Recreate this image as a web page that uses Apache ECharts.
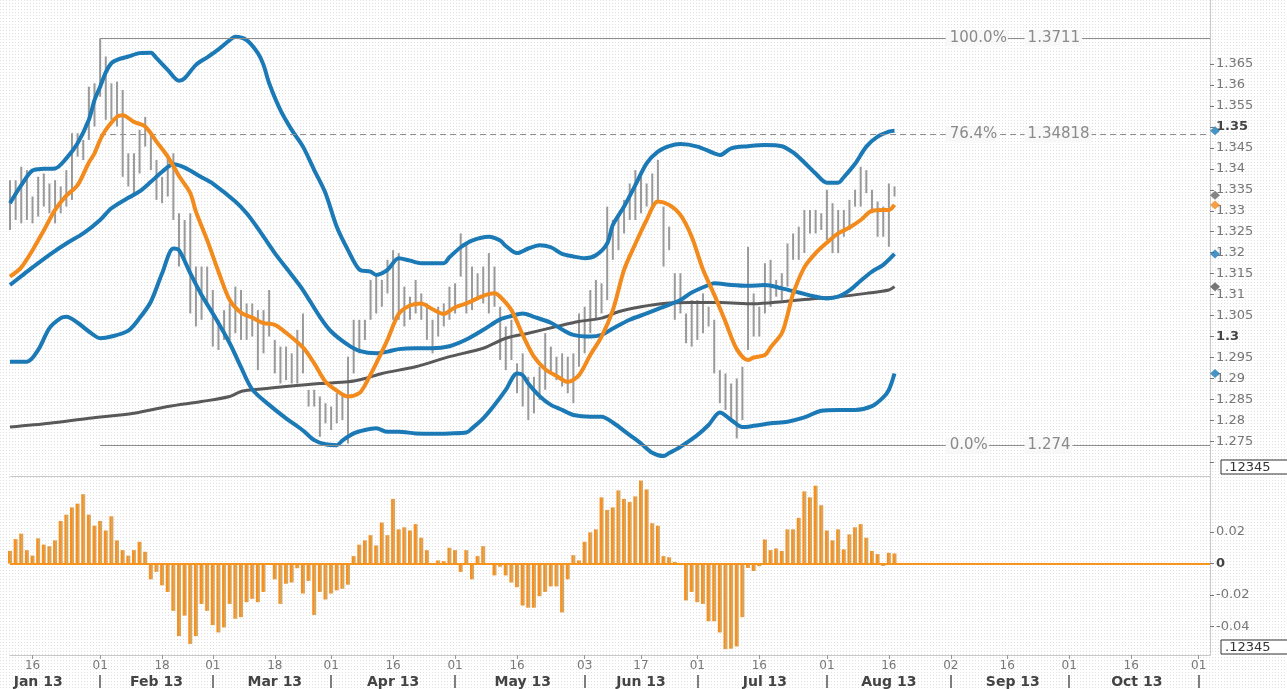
<!DOCTYPE html>
<html>
<head>
<meta charset="utf-8">
<title>EUR/USD 2013</title>
<script src="https://cdn.jsdelivr.net/npm/echarts@6/dist/echarts.min.js"></script>
<style>
html, body { margin: 0; padding: 0; background: #fff; }
#main { width: 1287px; height: 689px; }
</style>
</head>
<body>
<div id="main"></div>
<script>
// daily bars, one per weekday from 10 Jan 2013
var high = [1.3373, 1.3373, 1.3405, 1.3397, 1.3334, 1.3381, 1.3389, 1.3365, 1.3373, 1.3358,
	1.3397, 1.3485, 1.3485, 1.3469, 1.3596, 1.3604, 1.3711, 1.3668, 1.3604, 1.3608,
	1.3588, 1.3437, 1.3437, 1.3493, 1.3524, 1.3485, 1.3421, 1.3381, 1.3429, 1.3437,
	1.3294, 1.3278, 1.3294, 1.3167, 1.3167, 1.3167, 1.3111, 1.3040, 1.3063, 1.3079,
	1.3119, 1.3111, 1.3079, 1.3079, 1.3063, 1.3063, 1.3111, 1.2992, 1.2976, 1.2976,
	1.2960, 1.3016, 1.3055, 1.2873, 1.2873, 1.2857, 1.2841, 1.2833, 1.2865, 1.2865,
	1.2952, 1.3040, 1.3040, 1.3040, 1.3135, 1.3143, 1.3135, 1.3183, 1.3206, 1.3199,
	1.3119, 1.3095, 1.3135, 1.3103, 1.3079, 1.3040, 1.3071, 1.3079, 1.3119, 1.3127,
	1.3246, 1.3222, 1.3167, 1.3151, 1.3167, 1.3199, 1.3167, 1.3071, 1.3024, 1.3040,
	1.2936, 1.2960, 1.2904, 1.2904, 1.2928, 1.3008, 1.2976, 1.2952, 1.2960, 1.2952,
	1.2960, 1.3055, 1.3071, 1.3111, 1.3135, 1.3127, 1.3310, 1.3278, 1.3286, 1.3326,
	1.3365, 1.3397, 1.3381, 1.3365, 1.3389, 1.3421, 1.3310, 1.3262, 1.3151, 1.3151,
	1.3055, 1.3087, 1.3087, 1.3103, 1.3071, 1.3040, 1.2920, 1.2912, 1.2888, 1.2900,
	1.2928, 1.3214, 1.3103, 1.3071, 1.3175, 1.3183, 1.3135, 1.3151, 1.3222, 1.3246,
	1.3262, 1.3302, 1.3302, 1.3302, 1.3294, 1.3350, 1.3318, 1.3302, 1.3302, 1.3326,
	1.3350, 1.3405, 1.3397, 1.3350, 1.3322, 1.3310, 1.3365, 1.3358];
var low = [1.3254, 1.3278, 1.3270, 1.3278, 1.3270, 1.3286, 1.3310, 1.3294, 1.3270, 1.3294,
	1.3310, 1.3326, 1.3429, 1.3421, 1.3469, 1.3501, 1.3572, 1.3517, 1.3517, 1.3501,
	1.3381, 1.3358, 1.3334, 1.3389, 1.3453, 1.3397, 1.3326, 1.3318, 1.3334, 1.3278,
	1.3167, 1.3183, 1.3055, 1.3024, 1.3040, 1.3071, 1.2976, 1.2968, 1.2992, 1.2992,
	1.3008, 1.2992, 1.2992, 1.3000, 1.2920, 1.2960, 1.3000, 1.2912, 1.2888, 1.2896,
	1.2888, 1.2888, 1.2912, 1.2833, 1.2833, 1.2761, 1.2793, 1.2777, 1.2793, 1.2801,
	1.2745, 1.2912, 1.2960, 1.2992, 1.3040, 1.3055, 1.3071, 1.3103, 1.3040, 1.3040,
	1.3024, 1.3040, 1.3055, 1.3040, 1.2992, 1.2960, 1.3000, 1.3024, 1.3040, 1.3055,
	1.3143, 1.3055, 1.3063, 1.3087, 1.3079, 1.3055, 1.3071, 1.2944, 1.2920, 1.2944,
	1.2865, 1.2833, 1.2801, 1.2817, 1.2849, 1.2873, 1.2912, 1.2896, 1.2881, 1.2865,
	1.2841, 1.2928, 1.2960, 1.3008, 1.3040, 1.3055, 1.3087, 1.3183, 1.3206, 1.3246,
	1.3278, 1.3278, 1.3294, 1.3310, 1.3310, 1.3326, 1.3167, 1.3206, 1.3040, 1.3055,
	1.2984, 1.2976, 1.2992, 1.3008, 1.3024, 1.2912, 1.2841, 1.2825, 1.2801, 1.2757,
	1.2801, 1.2968, 1.3000, 1.3000, 1.3055, 1.3071, 1.3095, 1.3087, 1.3119, 1.3183,
	1.3183, 1.3199, 1.3246, 1.3246, 1.3254, 1.3230, 1.3199, 1.3199, 1.3238, 1.3254,
	1.3310, 1.3310, 1.3342, 1.3294, 1.3238, 1.3238, 1.3214, 1.3334];
var lastClose = 1.3337;

// indicator lines as [day index, value]
var upperBand = [[0, 1.3318], [2, 1.3361], [4, 1.3396], [6, 1.3400], [8, 1.3401], [10, 1.3425], [12, 1.3461], [14, 1.3517], [15, 1.3564], [16, 1.3596], [17, 1.3630], [18, 1.3652], [19, 1.3660], [21, 1.3668], [23, 1.3676], [25, 1.3677], [26, 1.3664], [28, 1.3636], [30, 1.3610], [31, 1.3616], [33, 1.3648], [35, 1.3666], [37, 1.3685], [39, 1.3707], [40, 1.3715], [42, 1.3707], [44, 1.3676], [45, 1.3648], [46, 1.3604], [48, 1.3540], [50, 1.3493], [52, 1.3453], [54, 1.3397], [56, 1.3342], [58, 1.3262], [60, 1.3206], [62, 1.3160], [64, 1.3155], [65, 1.3147], [67, 1.3159], [69, 1.3187], [71, 1.3181], [73, 1.3175], [77, 1.3175], [78, 1.3189], [80, 1.3213], [82, 1.3229], [85, 1.3238], [87, 1.3229], [88, 1.3216], [90, 1.3199], [92, 1.3210], [94, 1.3218], [96, 1.3213], [98, 1.3197], [100, 1.3191], [102, 1.3187], [104, 1.3194], [106, 1.3222], [107, 1.3266], [109, 1.3310], [111, 1.3361], [113, 1.3413], [115, 1.3441], [117, 1.3454], [119, 1.3459], [122, 1.3453], [125, 1.3437], [126, 1.3433], [128, 1.3449], [131, 1.3454], [134, 1.3457], [137, 1.3454], [139, 1.3439], [141, 1.3415], [143, 1.3389], [145, 1.3367], [147, 1.3367], [148, 1.3380], [150, 1.3412], [152, 1.3453], [154, 1.3477], [156, 1.3489], [157, 1.3491]];
var midBand = [[0, 1.3123], [2, 1.3144], [4, 1.3165], [7, 1.3195], [10, 1.3222], [13, 1.3246], [16, 1.3278], [18, 1.3306], [21, 1.3331], [23, 1.3346], [25, 1.3369], [27, 1.3393], [29, 1.3411], [31, 1.3403], [34, 1.3380], [36, 1.3365], [40, 1.3322], [42, 1.3294], [44, 1.3258], [47, 1.3199], [50, 1.3147], [52, 1.3111], [55, 1.3047], [57, 1.3012], [60, 1.2980], [62, 1.2966], [65, 1.2960], [67, 1.2964], [69, 1.2970], [72, 1.2972], [75, 1.2972], [78, 1.2977], [81, 1.2993], [84, 1.3016], [87, 1.3041], [89, 1.3049], [91, 1.3055], [93, 1.3047], [96, 1.3033], [98, 1.3017], [100, 1.3004], [103, 1.3000], [105, 1.3004], [107, 1.3019], [110, 1.3040], [113, 1.3055], [116, 1.3071], [119, 1.3087], [121, 1.3105], [124, 1.3123], [125, 1.3127], [128, 1.3123], [131, 1.3121], [134, 1.3123], [137, 1.3115], [140, 1.3105], [143, 1.3095], [145, 1.3091], [147, 1.3095], [149, 1.3110], [151, 1.3133], [153, 1.3155], [155, 1.3171], [157, 1.3197]];
var lowerBand = [[0, 1.2940], [3, 1.2940], [5, 1.2968], [7, 1.3020], [9, 1.3044], [10, 1.3047], [12, 1.3033], [14, 1.3012], [16, 1.2996], [18, 1.3000], [21, 1.3014], [23, 1.3044], [25, 1.3083], [27, 1.3151], [29, 1.3210], [30, 1.3206], [32, 1.3151], [34, 1.3099], [36, 1.3055], [39, 1.2984], [41, 1.2927], [43, 1.2874], [46, 1.2837], [49, 1.2805], [52, 1.2776], [54, 1.2753], [56, 1.2743], [58, 1.2741], [59, 1.2752], [61, 1.2769], [63, 1.2777], [65, 1.2781], [67, 1.2773], [69, 1.2773], [72, 1.2769], [75, 1.2768], [78, 1.2769], [81, 1.2771], [82, 1.2781], [84, 1.2805], [86, 1.2837], [88, 1.2873], [90, 1.2912], [91, 1.2908], [92, 1.2888], [94, 1.2858], [96, 1.2837], [98, 1.2825], [100, 1.2813], [103, 1.2809], [105, 1.2809], [107, 1.2795], [110, 1.2765], [112, 1.2745], [114, 1.2723], [116, 1.2715], [117, 1.2722], [119, 1.2737], [122, 1.2765], [124, 1.2789], [126, 1.2819], [128, 1.2801], [130, 1.2784], [132, 1.2787], [135, 1.2793], [138, 1.2797], [141, 1.2807], [144, 1.2823], [147, 1.2825], [150, 1.2825], [153, 1.2834], [155, 1.2855], [156, 1.2873], [157, 1.2912]];
var fastMa = [[0, 1.3143], [2, 1.3165], [4, 1.3206], [6, 1.3253], [8, 1.3302], [10, 1.3336], [12, 1.3361], [14, 1.3415], [15, 1.3437], [16, 1.3469], [17, 1.3493], [19, 1.3524], [20, 1.3528], [22, 1.3512], [24, 1.3501], [26, 1.3465], [28, 1.3429], [30, 1.3383], [32, 1.3342], [33, 1.3298], [35, 1.3230], [37, 1.3155], [39, 1.3087], [41, 1.3057], [43, 1.3045], [45, 1.3032], [47, 1.3028], [49, 1.3009], [52, 1.2974], [54, 1.2936], [56, 1.2892], [58, 1.2871], [60, 1.2857], [62, 1.2865], [63, 1.2884], [65, 1.2936], [67, 1.2992], [69, 1.3054], [71, 1.3074], [73, 1.3079], [75, 1.3065], [77, 1.3054], [79, 1.3070], [81, 1.3079], [84, 1.3097], [86, 1.3103], [87, 1.3095], [89, 1.3063], [91, 1.3004], [93, 1.2952], [95, 1.2922], [97, 1.2906], [99, 1.2892], [101, 1.2908], [103, 1.2956], [105, 1.3000], [107, 1.3063], [109, 1.3159], [111, 1.3221], [113, 1.3278], [115, 1.3322], [117, 1.3314], [119, 1.3290], [121, 1.3238], [123, 1.3160], [125, 1.3100], [127, 1.3035], [129, 1.2970], [131, 1.2944], [132, 1.2950], [134, 1.2956], [135, 1.2974], [137, 1.3008], [138, 1.3051], [139, 1.3102], [141, 1.3165], [143, 1.3199], [145, 1.3224], [147, 1.3246], [149, 1.3260], [151, 1.3278], [153, 1.3300], [155, 1.3302], [156, 1.3302], [157, 1.3314]];
var slowMa = [[0, 1.2784], [7, 1.2793], [14, 1.2805], [22, 1.2817], [28, 1.2833], [34, 1.2845], [39, 1.2857], [41, 1.2869], [43, 1.2873], [49, 1.2881], [55, 1.2888], [60, 1.2892], [63, 1.2900], [66, 1.2912], [72, 1.2928], [78, 1.2952], [84, 1.2972], [88, 1.2996], [92, 1.3008], [97, 1.3024], [101, 1.3036], [105, 1.3044], [108, 1.3059], [112, 1.3071], [116, 1.3079], [121, 1.3081], [126, 1.3081], [132, 1.3078], [137, 1.3083], [143, 1.3091], [147, 1.3095], [152, 1.3103], [156, 1.3111], [157, 1.3119]];

// oscillator histogram, one per day
var hist = [0.008, 0.0155, 0.019, 0.0085, 0.005, 0.016, 0.012, 0.011, 0.0147, 0.027,
	0.031, 0.0356, 0.038, 0.044, 0.031, 0.024, 0.027, 0.021, 0.030, 0.0147,
	0.0085, 0.005, 0.0085, 0.0138, 0.0075, -0.010, -0.0053, -0.0138, -0.018, -0.030,
	-0.046, -0.033, -0.051, -0.046, -0.0256, -0.030, -0.039, -0.0437, -0.0405, -0.0256,
	-0.035, -0.034, -0.0245, -0.0224, -0.0245, -0.018, 0, -0.010, -0.0256, -0.0128,
	-0.012, -0.003, -0.019, -0.011, -0.0326, -0.018, -0.0228, -0.019, -0.017, -0.016,
	-0.0134, 0.0047, 0.012, 0.0147, 0.018, 0.0115, 0.026, 0.018, 0.041, 0.0217,
	0.023, 0.021, 0.025, 0.0164, 0.0085, 0, 0.002, 0.0015, 0.010, 0.0085,
	-0.0053, 0.0085, -0.010, 0.0047, 0.011, 0, -0.0075, -0.002, -0.0075, -0.012,
	-0.015, -0.0266, -0.028, -0.028, -0.0207, -0.018, -0.0145, -0.0145, -0.031, -0.010,
	0.0053, 0.002, 0.0138, 0.0198, 0.0217, 0.042, 0.034, 0.0356, 0.0464, 0.041,
	0.039, 0.0426, 0.0526, 0.047, 0.0256, 0.024, 0.0047, 0.004, 0.001, -0.001,
	-0.0234, -0.018, -0.0245, -0.0256, -0.0366, -0.0366, -0.0437, -0.0543, -0.054, -0.0526,
	-0.034, -0.0028, -0.0047, -0.0017, 0.0153, 0.0085, 0.0096, 0.008, 0.0217, 0.0217,
	0.029, 0.0458, 0.042, 0.0494, 0.037, 0.021, 0.0147, 0.0217, 0.009, 0.0185,
	0.023, 0.025, 0.0164, 0.008, 0.006, -0.0015, 0.0068, 0.0064];

// axis ticks and labels
var priceTicks = [1.27, 1.275, 1.28, 1.285, 1.29, 1.295, 1.3, 1.305, 1.31, 1.315, 1.32, 1.325, 1.33, 1.335, 1.34, 1.345, 1.35, 1.355, 1.36, 1.365];
var priceLabels = priceTicks.slice(1);
var histTicks = [-0.04, -0.02, 0, 0.02];
var boldTicks = [1.3, 1.35, 0];
var monthNames = ['Jan', 'Feb', 'Mar', 'Apr', 'May', 'Jun', 'Jul', 'Aug', 'Sep', 'Oct', 'Nov', 'Dec'];

// fibonacci retracement
var fibStart = '2013-02-01';
var fibLevels = [1.3711, 1.34818, 1.274];
var fibPercent = ['100.0%', '76.4%', '0.0%'];
var fibPrice = ['1.3711', '1.34818', '1.274'];

var blue = '#1b79b6', orange = '#f28a1c', gray = '#595959';

// weekday calendar
var days = [];
for (var d = new Date(Date.UTC(2013, 0, 10)); d <= new Date(Date.UTC(2013, 10, 5)); d.setUTCDate(d.getUTCDate() + 1)) {
	var wd = d.getUTCDay();
	if (wd !== 0 && wd !== 6) days.push(d.toISOString().slice(0, 10));
}
var dayLabel = {}, monthStart = {}, monthMid = {};
var starts = [-7]; // 1 Jan lies 7 weekdays before the first bar
days.forEach(function(s, i) {
	var prev = days[i - 1];
	if (!prev) return;
	if (prev.slice(5, 7) !== s.slice(5, 7)) {
		dayLabel[i] = true;
		monthStart[i] = true;
		starts.push(i);
	} else if (+s.slice(8) >= 16 && +prev.slice(8) < 16) {
		dayLabel[i] = true;
	}
});
for (var k = 0; k < starts.length - 1; k++) {
	monthMid[Math.round((starts[k] + starts[k + 1]) / 2)] = true;
}
var lastIdx = days.length - 1;

function last(arr) { return arr[arr.length - 1][1]; }
function isBold(v) {
	return boldTicks.some(function(b) { return Math.abs(b - v) < 1e-9; });
}
function tickText(v) {
	var s = String(+v.toFixed(4));
	return isBold(v) ? '{b|' + s + '}' : s;
}

var pat = document.createElement('canvas');
pat.width = 3;
pat.height = 3;
var pctx = pat.getContext('2d');
pctx.fillStyle = '#ffffff';
pctx.fillRect(0, 0, 3, 3);
pctx.fillStyle = '#e0e0e0';
pctx.fillRect(0, 0, 1, 1);

var font = 'DejaVu Sans';
var labelRich = { b: { fontFamily: font, fontSize: 13, fontWeight: 'bold', color: '#444' } };

function line(data, color, width, z) {
	return {
		type: 'line', xAxisIndex: 0, yAxisIndex: 0, data: data,
		smooth: 0.3, symbol: 'none', silent: true, z: z,
		lineStyle: { color: color, width: width }
	};
}

var fibLines = fibLevels.map(function(v, i) {
	return [
		{ coord: [fibStart, v], lineStyle: { type: i === 1 ? [6, 4] : 'solid' } },
		{ coord: [days[lastIdx], v] }
	];
});
var fibTexts = [];
fibLevels.forEach(function(v, i) {
	fibTexts.push({ coord: [days[166], v], label: { formatter: fibPercent[i], padding: [1, 1, 0, 4] } });
	fibTexts.push({ coord: [days[180], v], label: { formatter: fibPrice[i], padding: [1, 2, 0, 3] } });
});

var slow = line(slowMa, gray, 3, 3);
slow.markLine = {
	silent: true, symbol: ['none', 'none'], label: { show: false },
	lineStyle: { color: '#8c8c8c', width: 1.2 },
	data: fibLines
};
slow.markPoint = {
	silent: true, symbol: 'rect', symbolSize: 1,
	itemStyle: { color: 'rgba(0,0,0,0)' },
	label: {
		show: true, position: 'right', distance: 0,
		color: '#8a8a8a', fontFamily: font, fontSize: 15,
		backgroundColor: '#f8f8f8'
	},
	data: fibTexts
};

var myChart = echarts.init(document.getElementById('main'));
var option = {
	animation: false,
	backgroundColor: { image: pat, repeat: 'repeat' },
	textStyle: { fontFamily: font },
	grid: [
		{ left: 10, right: 77, top: 0, height: 476 },
		{ left: 10, right: 77, top: 477, bottom: 33 }
	],
	xAxis: [{
		type: 'category', gridIndex: 0, data: days, boundaryGap: false,
		axisLine: { onZero: false, lineStyle: { color: '#c8c8c8' } },
		axisTick: { show: false }, axisLabel: { show: false }
	}, {
		type: 'category', gridIndex: 1, data: days, boundaryGap: false,
		axisLine: { onZero: false, lineStyle: { color: '#c8c8c8' } },
		axisTick: {
			show: true, length: 4, lineStyle: { color: '#999' },
			interval: function(i) { return !!dayLabel[i]; }
		},
		axisLabel: {
			interval: function(i) { return !!dayLabel[i]; },
			formatter: function(v) { return v.slice(8); },
			color: '#777', fontFamily: font, fontSize: 12, margin: 5
		}
	}, {
		type: 'category', gridIndex: 1, data: days, boundaryGap: false,
		position: 'bottom', offset: 20,
		axisLine: { show: false, onZero: false },
		axisTick: {
			show: true, length: 13, lineStyle: { color: '#555', width: 1.5 },
			interval: function(i) { return !!monthStart[i]; }
		},
		axisLabel: {
			interval: function(i) { return !!monthMid[i]; },
			formatter: function(v) { return monthNames[+v.slice(5, 7) - 1] + ' ' + v.slice(2, 4); },
			color: '#444', fontFamily: font, fontSize: 14, fontWeight: 'bold', margin: 0
		}
	}],
	yAxis: [{
		type: 'value', gridIndex: 0, position: 'right',
		min: 1.26674, max: 1.38027, scale: true,
		splitLine: { show: false },
		axisLine: { show: true, lineStyle: { color: '#c8c8c8' } },
		axisTick: { show: true, length: 4, customValues: priceTicks, lineStyle: { color: '#777' } },
		axisLabel: {
			customValues: priceLabels, formatter: tickText, rich: labelRich,
			color: '#777', fontFamily: font, fontSize: 13, margin: 6
		}
	}, {
		type: 'value', gridIndex: 1, position: 'right',
		min: -0.058, max: 0.0549,
		splitLine: { show: false },
		axisLine: { show: true, lineStyle: { color: '#c8c8c8' } },
		axisTick: { show: true, length: 4, customValues: histTicks, lineStyle: { color: '#777' } },
		axisLabel: {
			customValues: histTicks, formatter: tickText, rich: labelRich,
			color: '#777', fontFamily: font, fontSize: 13, margin: 6
		}
	}],
	series: [{
		type: 'custom', xAxisIndex: 0, yAxisIndex: 0, silent: true, z: 1,
		data: high.map(function(h, i) { return [i, h, low[i]]; }),
		encode: { x: 0, y: [1, 2] },
		renderItem: function(params, api) {
			var top = api.coord([api.value(0), api.value(1)]);
			var bot = api.coord([api.value(0), api.value(2)]);
			return {
				type: 'line',
				shape: { x1: top[0], y1: top[1], x2: bot[0], y2: bot[1] },
				style: { stroke: '#9a9a9a', lineWidth: 2 }
			};
		}
	},
	slow,
	line(upperBand, blue, 4, 4),
	line(midBand, blue, 4, 4),
	line(lowerBand, blue, 4, 4),
	line(fastMa, orange, 4, 5),
	{
		type: 'scatter', xAxisIndex: 0, yAxisIndex: 0, silent: true, z: 10, clip: false,
		symbol: 'diamond', symbolSize: [10, 9], symbolOffset: [5, 0],
		data: [
			{ value: [lastIdx, last(upperBand)], itemStyle: { color: blue } },
			{ value: [lastIdx, lastClose], itemStyle: { color: '#666' } },
			{ value: [lastIdx, last(fastMa)], itemStyle: { color: orange } },
			{ value: [lastIdx, last(midBand)], itemStyle: { color: blue } },
			{ value: [lastIdx, last(slowMa)], itemStyle: { color: '#555' } },
			{ value: [lastIdx, last(lowerBand)], itemStyle: { color: blue } }
		]
	}, {
		type: 'bar', xAxisIndex: 1, yAxisIndex: 1, data: hist, barWidth: 4, silent: true,
		itemStyle: {
			color: new echarts.graphic.LinearGradient(0, 0, 1, 0, [
				{ offset: 0, color: '#f7901e' }, { offset: 0.5, color: '#f7901e' },
				{ offset: 0.5, color: '#d9a65e' }, { offset: 1, color: '#d9a65e' }
			])
		},
		markLine: {
			silent: true, symbol: ['none', 'none'], label: { show: false },
			lineStyle: { color: '#f7941d', width: 2, type: 'solid' },
			data: [{ yAxis: 0 }]
		}
	}],
	graphic: [
		{ type: 'rect', shape: { x: 1221, y: 460, width: 70, height: 14 }, style: { fill: '#fff', stroke: '#333', lineWidth: 1 }, z: 20 },
		{ type: 'text', x: 1225, y: 461, style: { text: '.12345', fill: '#333', font: '13px DejaVu Sans' }, z: 21 },
		{ type: 'rect', shape: { x: 1221, y: 640, width: 70, height: 14 }, style: { fill: '#fff', stroke: '#333', lineWidth: 1 }, z: 20 },
		{ type: 'text', x: 1225, y: 641, style: { text: '.12345', fill: '#333', font: '13px DejaVu Sans' }, z: 21 }
	]
};
myChart.setOption(option);
</script>
</body>
</html>
